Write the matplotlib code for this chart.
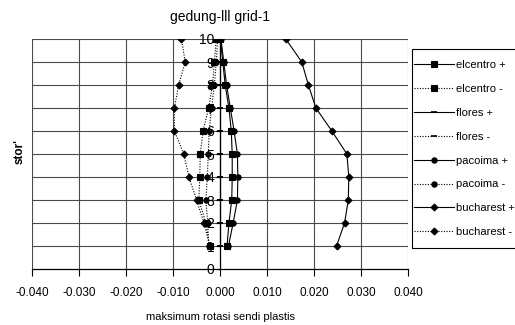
import matplotlib
matplotlib.use("Agg")
import matplotlib.pyplot as plt
from matplotlib.patches import Rectangle
from matplotlib.ticker import FixedLocator, FormatStrFormatter

plt.rcParams['font.family'] = ['Liberation Sans', 'DejaVu Sans']

stories = [1, 2, 3, 4, 5, 6, 7, 8, 9, 10]
elcentro_pos = [0.0015, 0.0019, 0.0025, 0.0026, 0.0026, 0.0024, 0.0019, 0.0011, 0.0006, 0.0001]
elcentro_neg = [-0.0022, -0.0030, -0.0045, -0.0043, -0.0042, -0.0036, -0.0024, -0.0016, -0.0012, -0.0008]
flores_pos = [0.0, 0.0, 0.0, 0.0, 0.0, 0.0, 0.0, 0.0, 0.0, 0.0]
flores_neg = [0.0, 0.0, 0.0, 0.0, 0.0, 0.0, 0.0, 0.0, 0.0, 0.0]
pacoima_pos = [0.0018, 0.0028, 0.0037, 0.0038, 0.0037, 0.0030, 0.0022, 0.0014, 0.0008, 0.0002]
pacoima_neg = [-0.0024, -0.0026, -0.0030, -0.0027, -0.0025, -0.0023, -0.0018, -0.0012, -0.0008, -0.0005]
bucharest_pos = [0.0248, 0.0265, 0.0273, 0.0274, 0.0270, 0.0238, 0.0204, 0.0188, 0.0174, 0.0140]
bucharest_neg = [-0.0022, -0.0034, -0.0050, -0.0066, -0.0077, -0.0097, -0.0097, -0.0088, -0.0074, -0.0082]

x_ticks = [-0.04, -0.03, -0.02, -0.01, 0.0, 0.01, 0.02, 0.03, 0.04]
y_ticks = [0, 1, 2, 3, 4, 5, 6, 7, 8, 9, 10]

series = [
    ("elcentro +", elcentro_pos, '-', 's', 3.8),
    ("elcentro -", elcentro_neg, ':', 's', 3.8),
    ("flores +", flores_pos, '-', '_', 5),
    ("flores -", flores_neg, ':', '_', 5),
    ("pacoima +", pacoima_pos, '-', 'o', 3.8),
    ("pacoima -", pacoima_neg, ':', 'o', 3.8),
    ("bucharest +", bucharest_pos, '-', 'D', 3.5),
    ("bucharest -", bucharest_neg, ':', 'D', 3.5),
]

fig = plt.figure(figsize=(5.15, 3.25), dpi=100)
ax = fig.add_axes([32/515, 1-269/325, 376/515, 230/325])

gridc = '#4a4a4a'
for yv in y_ticks[1:]:
    ax.axhline(yv, color=gridc, lw=0.8, zorder=1)
for xv in x_ticks:
    if xv != 0.0:
        ax.axvline(xv, color=gridc, lw=0.8, zorder=1)

handles = []
for name, vals, ls, mk, ms in series:
    dash = (0, (1, 1.4)) if ls == ':' else '-'
    h, = ax.plot(vals, stories, linestyle=dash, color='black', lw=0.8,
                 marker=mk, markersize=ms, markerfacecolor='black',
                 markeredgecolor='black', markeredgewidth=0.8 if mk != '_' else 1.2,
                 label=name, zorder=3)
    handles.append(h)

ax.set_xlim(-0.04, 0.04)
ax.set_ylim(0, 10)
ax.xaxis.set_major_locator(FixedLocator(x_ticks))
ax.xaxis.set_major_formatter(FormatStrFormatter('%.3f'))
ax.yaxis.set_major_locator(FixedLocator(y_ticks))

for s in ['top', 'right']:
    ax.spines[s].set_visible(False)
ax.spines['left'].set_position(('data', 0))
ax.spines['left'].set_color('black')
ax.spines['left'].set_linewidth(0.9)
ax.spines['left'].set_zorder(2)
ax.spines['bottom'].set_color('black')
ax.spines['bottom'].set_linewidth(0.9)

ax.tick_params(axis='x', direction='out', length=5, width=0.8, labelsize=8.5, pad=8)
ax.tick_params(axis='y', direction='out', length=3, width=0.8, labelsize=10, pad=1)
for lab in ax.get_yticklabels():
    lab.set_zorder(4)

ax.set_title("gedung-lll grid-1", fontsize=10, pad=13)
ax.set_xlabel("maksimum rotasi sendi plastis", fontsize=8, labelpad=9)
fig.text(20/515, 1-152/325, "stor'", rotation=90, fontsize=8.5, fontweight='bold',
         ha='center', va='center')

# legend frame (extends past the right edge, as in the reference)
fig.patches.append(Rectangle((412/515, 1-248/325), 120/515, 199/325,
                             transform=fig.transFigure, fill=False,
                             edgecolor='black', lw=0.8))
leg = fig.legend(handles=handles, loc='upper left',
                 bbox_to_anchor=(414/515, 1-60/325), fontsize=8,
                 frameon=False, handlelength=3.6, labelspacing=1.25,
                 borderpad=0, handletextpad=0.2, borderaxespad=0)

fig.savefig("out.png", dpi=100)
